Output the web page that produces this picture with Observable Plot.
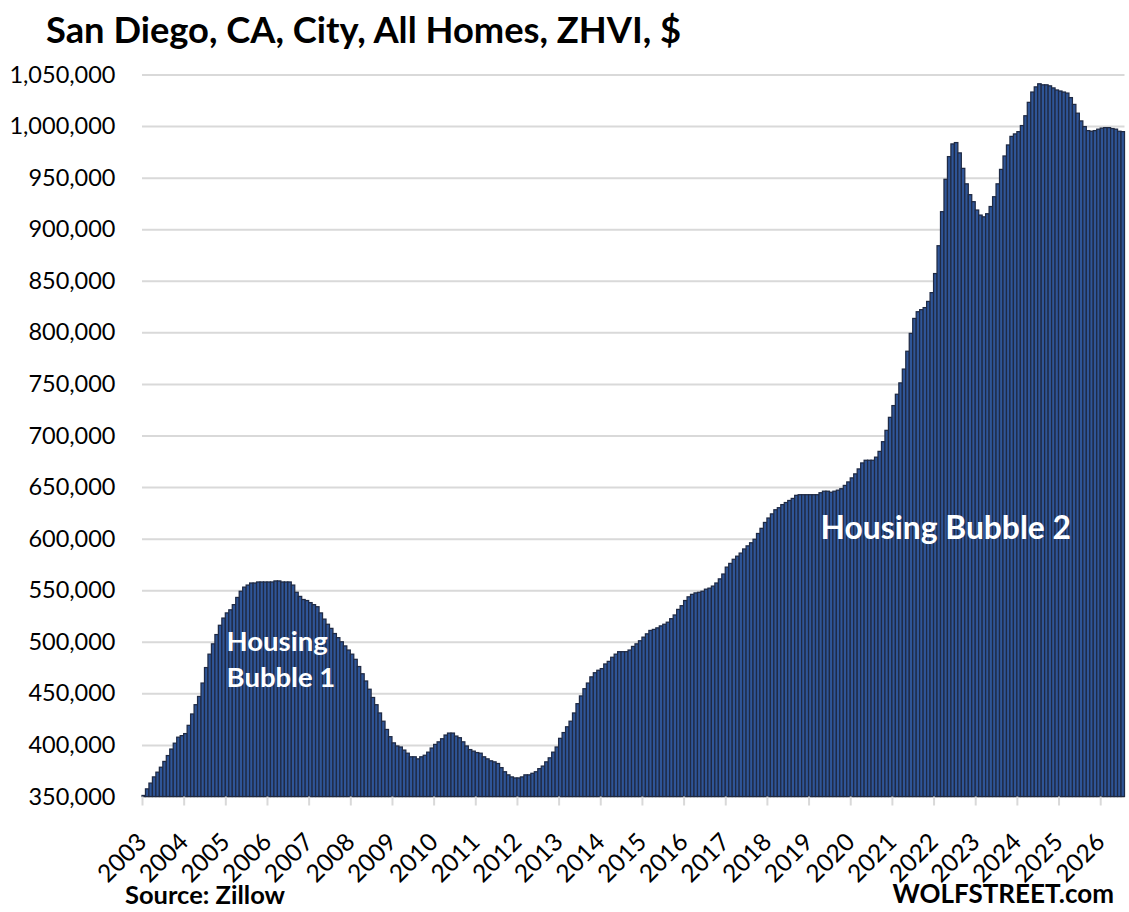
<!DOCTYPE html>
<html>
<head>
<meta charset="utf-8">
<script src="https://cdn.jsdelivr.net/npm/d3@7"></script>
<script src="https://cdn.jsdelivr.net/npm/@observablehq/plot@0.6"></script>
<style>
html,body{margin:0;padding:0;background:#fff;}
body{width:1129px;height:912px;overflow:hidden;font-family:Lato,sans-serif;color:#000;position:relative;}
#title{position:absolute;left:46px;top:8px;font-size:36.3px;font-weight:700;line-height:42px;white-space:nowrap;}
#chart{position:absolute;left:0;top:60px;}
#source{position:absolute;left:125px;top:880px;font-size:25.5px;font-weight:700;line-height:28px;white-space:nowrap;}
#brand{position:absolute;right:15px;top:877px;font-size:26px;font-weight:700;line-height:32px;white-space:nowrap;}
svg text{font-family:Lato,sans-serif;}
</style>
</head>
<body>
<div id="title">San Diego, CA, City, All Homes, ZHVI, $</div>
<div id="chart"></div>
<div id="source">Source: Zillow</div>
<div id="brand">WOLFSTREET.com</div>
<script>
// Monthly ZHVI, $ thousands
const v2003 = [351,357.4,363,369,373.6,378.4,384,389.7,396,401.7,407.5,409];
const v2004 = [411,419,430,439,447,460,475,488,498,507,516,523];
const v2005 = [528,531,536,543,549,553,555,557,557,558,558,558];
const v2006 = [558,558,559,559,558,558,558,555,548,544,541,540];
const v2007 = [538,536,534,528,522,517,513,508,504,500,496,492];
const v2008 = [488,483,476,469,462,454,446,439,431,423,415,408];
const v2009 = [402,399,398,395,392,388.5,388.5,386.5,388.5,390,393,397];
const v2010 = [400.5,403,406,409.6,411.5,411.5,408.6,407,403,399,395.5,394];
const v2011 = [392.6,392,388.5,386.5,384.6,383.6,382,378,374,371,369,368];
const v2012 = [368,369,371,371,372.5,374,377,379.5,383.6,387.5,393,398];
const v2013 = [406.4,412,417.6,423,431,440,447.5,454.5,460,466,470,472.4];
const v2014 = [474,478.5,481,485,488,490.4,490.4,490.4,492,495.5,498,501];
const v2015 = [504.5,507.7,511,512,513.5,515.4,517,519,522.4,526,531.4,535];
const v2016 = [540,543.6,546,547.4,548,549,551,552,554,557,561,565.7];
const v2017 = [572.4,576,580,583,586,590,593,596,599.4,605,610,615.7];
const v2018 = [620,624,628,630,633,635,637,639,642,642.6,642.6,642.6];
const v2019 = [642.6,642.6,642.6,644.5,646,646,645,646,647,648.4,651.6,655];
const v2020 = [658.9,662.8,667.6,673.4,676,676,676,679,684.6,694,705,717.6];
const v2021 = [729,740,751,764.4,781.7,799,813.5,820,822,824,830,838.5];
const v2022 = [857,884,917,948.4,970.4,982.7,984,974,959,944,933.5,926.7];
const v2023 = [918.6,913.7,912,915,922,931.5,944,958,971,981.7,990,992.4];
const v2024 = [994.6,1000.5,1010,1023,1033,1038,1041,1040,1040,1039,1037,1035];
const v2025 = [1034,1033,1032,1027.6,1021,1012.5,1005,999.5,995.6,995,995.6,997];
const v2026 = [998,998.5,998.5,997.6,997,995,994.6];

const years = [2003,2004,2005,2006,2007,2008,2009,2010,2011,2012,2013,2014,2015,2016,2017,2018,2019,2020,2021,2022,2023,2024,2025,2026];
const yTicks = [350000,400000,450000,500000,550000,600000,650000,700000,750000,800000,850000,900000,950000,1000000,1050000];
const notes1 = [
  {text:"Housing", month:24.2, value:500000},
  {text:"Bubble 1", month:24.2, value:465000}
];
const notes2 = [
  {text:"Housing Bubble 2", month:195.3, value:610000}
];

const series = [v2003,v2004,v2005,v2006,v2007,v2008,v2009,v2010,v2011,v2012,v2013,v2014,v2015,v2016,v2017,v2018,v2019,v2020,v2021,v2022,v2023,v2024,v2025,v2026].flat();
const bars = series.map((v,i)=>({month:i, next:i+1, base:350000, value:v*1000}));
const monthOfYear = y => (y-2003)*12;

const plot = Plot.plot({
  width:1129, height:820,
  marginLeft:142, marginRight:4.5, marginTop:14.5, marginBottom:83.5,
  style:{background:"#fff", overflow:"visible"},
  x:{type:"linear", domain:[0,bars.length]},
  y:{type:"linear", domain:[350000,1050000]},
  marks:[
    Plot.ruleY(yTicks,{stroke:"#d9d9d9",strokeWidth:2}),
    Plot.rect(bars,{x1:"month",x2:"next",y1:"base",y2:"value",fill:"#2f5597",stroke:"#1f2a44",strokeWidth:1.25}),
    Plot.axisY({ticks:yTicks,tickFormat:d3.format(","),tickSize:0,tickPadding:27,fontSize:23.5,label:null,fill:"#000"}),
    Plot.axisX({ticks:years.map(monthOfYear),tickFormat:d=>String(2003+d/12),tickSize:9,stroke:"#d9d9d9",strokeWidth:2,tickRotate:-45,tickPadding:32,fontSize:24.5,label:null,fill:"#000"}),
    Plot.text(notes1,{x:"month",y:"value",text:"text",textAnchor:"start",fill:"#fff",fontSize:27.5,fontWeight:700}),
    Plot.text(notes2,{x:"month",y:"value",text:"text",textAnchor:"start",fill:"#fff",fontSize:31.8,fontWeight:700})
  ]
});
document.getElementById("chart").appendChild(plot);
</script>
</body>
</html>
